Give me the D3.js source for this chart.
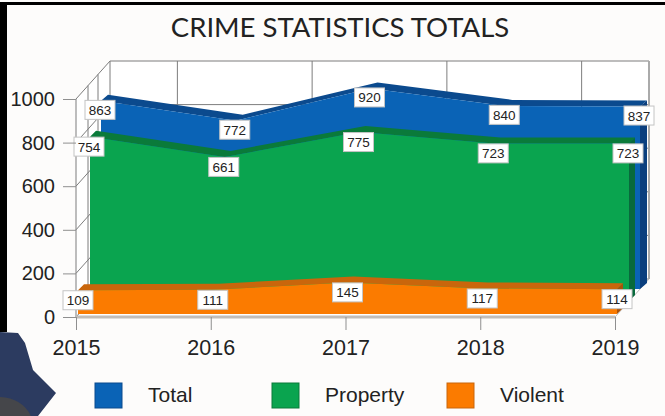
<!DOCTYPE html>
<html>
<head>
<meta charset="utf-8">
<script src="https://d3js.org/d3.v7.min.js"></script>
<style>
  html, body { margin: 0; padding: 0; background: #fdfcfb; }
  svg { display: block; }
  text { font-family: "Liberation Sans", Arial, sans-serif; fill: #222; }
</style>
</head>
<body>
<svg id="chart" width="665" height="416"></svg>
<script>
// Crime totals per year
const years = [2015, 2016, 2017, 2018, 2019];
const totalValues = [863, 772, 920, 840, 837];
const propertyValues = [754, 661, 775, 723, 723];
const violentValues = [109, 111, 145, 117, 114];
const yTicks = [0, 200, 400, 600, 800, 1000];
const chartTitle = "CRIME STATISTICS TOTALS";

const svg = d3.select("#chart");
const x = d3.scalePoint().domain(years).range([76, 615]);
const y = d3.scaleLinear().domain([0, 1000]).range([317, 99]);

// Depth of the 3D box and of each ribbon
const wall = { dx: 34, dy: -38 };
const seriesList = [
  { name: "Total", values: totalValues, dx: 25, dy: -28, bandX: 7, bandY: -6,
    face: "#0a63b6", top: "#0b4a8e", side: "#0b3f7e", labelX: 24, labelY: -19 },
  { name: "Property", values: propertyValues, dx: 14, dy: -16, bandX: 6, bandY: -6,
    face: "#0aa44f", top: "#0a7a3a", side: "#086a3c", labelX: 13, labelY: -6 },
  { name: "Violent", values: violentValues, dx: 2, dy: -3, bandX: 6, bandY: -6,
    face: "#fb7b00", top: "#c9660c", side: "#a9520a", labelX: 2, labelY: 7 }
];

// Outer frame
svg.append("rect").attr("x", 0).attr("y", 2).attr("width", 665).attr("height", 3).attr("fill", "#000");
svg.append("rect").attr("x", 0).attr("y", 2).attr("width", 7).attr("height", 330).attr("fill", "#000");

// Title
svg.append("text").attr("x", 340).attr("y", 37).attr("text-anchor", "middle")
  .style("font-family", "Lato, 'Open Sans', sans-serif")
  .style("font-size", "27.5px").text(chartTitle);

// Box walls
const gridColor = "#7d7d7d";
const walls = svg.append("g").attr("stroke", gridColor).attr("fill", "none").attr("stroke-width", 1);
const left = x.range()[0], right = x.range()[1];
const backLeft = left + wall.dx, backRight = right + wall.dx;
walls.append("path").attr("fill", "#fff").attr("stroke", "none")
  .attr("d", d3.line()([[left, y(1000)], [backLeft, y(1000) + wall.dy], [backRight, y(1000) + wall.dy],
                        [backRight, y(0) + wall.dy], [right, y(0)], [left, y(0)]]));
yTicks.forEach(t => {
  walls.append("line").attr("x1", left).attr("y1", y(t)).attr("x2", backLeft).attr("y2", y(t) + wall.dy);
  walls.append("line").attr("x1", backLeft).attr("y1", y(t) + wall.dy).attr("x2", backRight).attr("y2", y(t) + wall.dy);
});
walls.append("line").attr("x1", left).attr("y1", y(0)).attr("x2", left).attr("y2", y(1000));
walls.append("line").attr("x1", backLeft).attr("y1", y(0) + wall.dy).attr("x2", backLeft).attr("y2", y(1000) + wall.dy);
walls.append("line").attr("x1", backRight).attr("y1", y(0) + wall.dy).attr("x2", backRight).attr("y2", y(1000) + wall.dy)
  .attr("stroke", "#aaa").attr("stroke-width", 2);
walls.append("line").attr("x1", right).attr("y1", y(0)).attr("x2", backRight).attr("y2", y(0) + wall.dy).attr("stroke", "#bbb");
[12, 22].forEach(d => {
  walls.append("line").attr("x1", left + d).attr("y1", y(1000) + wall.dy * d / wall.dx)
    .attr("x2", left + d).attr("y2", y(0) + wall.dy * d / wall.dx);
});
const step = x.step();
years.slice(0, -1).forEach(yr => {
  const gx = x(yr) + wall.dx + step / 2;
  walls.append("line").attr("x1", gx).attr("x2", gx).attr("y1", y(1000) + wall.dy).attr("y2", y(0) + wall.dy);
});

// Ribbons, back to front
seriesList.forEach(s => {
  const rows = years.map((yr, i) => ({ yr, v: s.values[i] }));
  const g = svg.append("g").attr("class", "series");
  const last = rows[rows.length - 1];
  // right end of the ribbon
  g.append("path").attr("fill", s.side).attr("d", d3.line()([
    [x(last.yr) + s.dx, y(last.v) + s.dy],
    [x(last.yr) + s.dx + s.bandX, y(last.v) + s.dy + s.bandY],
    [x(last.yr) + s.dx + s.bandX, y(0) + s.dy + s.bandY],
    [x(last.yr) + s.dx, y(0) + s.dy]
  ]));
  // upper surface
  g.append("path").attr("fill", s.top).attr("d", d3.area()
    .x0(d => x(d.yr) + s.dx).y0(d => y(d.v) + s.dy)
    .x1(d => x(d.yr) + s.dx + s.bandX).y1(d => y(d.v) + s.dy + s.bandY)(rows));
  // front face
  g.append("path").attr("fill", s.face).attr("d", d3.area()
    .x(d => x(d.yr) + s.dx).y0(y(0) + s.dy).y1(d => y(d.v) + s.dy)(rows));
});

// Value labels
seriesList.forEach(s => {
  const g = svg.append("g").attr("class", "labels");
  years.forEach((yr, i) => {
    const cx = x(yr) + s.labelX, cy = y(s.values[i]) + s.labelY;
    g.append("rect").attr("x", cx - 15).attr("y", cy - 9.5).attr("width", 30).attr("height", 19)
      .attr("fill", "#fff").attr("stroke", "#c4c4c4").attr("stroke-width", 1);
    g.append("text").attr("x", cx).attr("y", cy + 5).attr("text-anchor", "middle")
      .style("font-size", "13.5px").text(s.values[i]);
  });
});

// Axes
const axisColor = "#8f8f8f";
svg.append("line").attr("x1", left).attr("x2", right).attr("y1", y(0)).attr("y2", y(0))
  .attr("stroke", "#c2bdb8").attr("stroke-width", 3);

const yAxis = svg.append("g").attr("transform", `translate(${left},0)`)
  .call(d3.axisLeft(y).tickValues(yTicks).tickFormat(d3.format("d")).tickSize(13).tickPadding(8));
yAxis.select(".domain").remove();
yAxis.selectAll("line").attr("stroke", axisColor);
yAxis.selectAll("text").style("font-size", "20px").style("fill", "#222");

const xAxis = svg.append("g").attr("transform", `translate(0,${y(0)})`)
  .call(d3.axisBottom(x).tickFormat(d3.format("d")).tickSize(13).tickPadding(10));
xAxis.select(".domain").remove();
xAxis.selectAll("line").attr("stroke", axisColor);
xAxis.selectAll("text").style("font-size", "21.5px").style("fill", "#222");

// Legend
const legendX = d3.scaleOrdinal().domain(seriesList.map(s => s.name)).range([95, 272, 447]);
const legend = svg.append("g");
seriesList.forEach(s => {
  const lx = legendX(s.name);
  legend.append("rect").attr("x", lx).attr("y", 383).attr("width", 27).attr("height", 25)
    .attr("fill", s.face).attr("stroke", s.top).attr("stroke-width", 1);
  legend.append("text").attr("x", lx + 53).attr("y", 402).style("font-size", "21px").text(s.name);
});

// Corner badge at the lower left
svg.append("path").attr("fill", "#2c3b60")
  .attr("d", "M0,332 L18,333 L25,343 L33,370 L56,393 L38,416 L0,416 Z");
svg.append("path").attr("fill", "#45464a")
  .attr("d", "M0,397 Q22,398 31,416 L0,416 Z");
</script>
</body>
</html>
